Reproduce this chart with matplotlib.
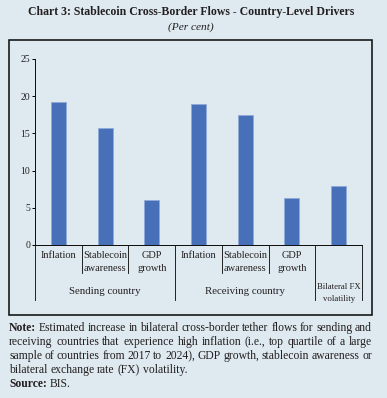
import matplotlib
matplotlib.use("Agg")
import matplotlib.pyplot as plt
from matplotlib.patches import Rectangle
from matplotlib.lines import Line2D

# data
categories = [["Inflation"], ["Stablecoin", "awareness"], ["GDP", "growth"],
              ["Inflation"], ["Stablecoin", "awareness"], ["GDP", "growth"], []]
values = [19.2, 15.7, 6.1, 19.0, 17.5, 6.3, 7.9]
groups = [("Sending country", 1), ("Receiving country", 4), ("Bilateral FX\nvolatility", 6)]
yticks = [0, 5, 10, 15, 20, 25]

title = "Chart 3: Stablecoin Cross-Border Flows - Country-Level Drivers"
subtitle = "(Per cent)"
note_lines = [
    "Note: Estimated increase in bilateral cross-border tether flows for sending and",
    "receiving countries that experience high inflation (i.e., top quartile of a large",
    "sample of countries from 2017 to 2024), GDP growth, stablecoin awareness or",
    "bilateral exchange rate (FX) volatility.",
    "Source: BIS.",
]

W, H = 387, 398
BG = "#dfeaf0"
TXT = "#231f20"
plt.rcParams["font.family"] = ["Liberation Serif", "DejaVu Serif"]

fig = plt.figure(figsize=(W / 72, H / 72), dpi=72, facecolor=BG)
renderer = fig.canvas.get_renderer()


def px(x, y):
    return x / W, 1 - y / H


def fit_size(s, target, **kw):
    # font size that makes s about target pixels wide
    t = fig.text(0, 0, s, fontsize=10, **kw)
    w = t.get_window_extent(renderer).width
    t.remove()
    return 10 * target / w


title_fs = fit_size(title, 328, fontweight="bold")
sub_fs = fit_size(subtitle, 46, style="italic")
cat_fs = fit_size("Inflation Stablecoin", 83)
grp_fs = fit_size("Sending country", 71)
note_fs = fit_size("receiving countries that experience high inflation (i.e., top quartile of a large", 358)
tick_fs = fit_size("25", 9.5)
bfx_fs = fit_size("Bilateral FX", 44)

# frame around the chart
fig.patches.append(Rectangle(px(9, 315), 363 / W, 275 / H, transform=fig.transFigure,
                             fill=False, edgecolor="#111111", linewidth=1.6))

fig.text(*px(191, 12), title, ha="center", va="center", fontsize=title_fs,
         fontweight="bold", color=TXT)
fig.text(*px(191, 27), subtitle, ha="center", va="center", fontsize=sub_fs,
         style="italic", color=TXT)

ax = fig.add_axes([35 / W, 1 - 245 / H, 327 / W, 186 / H])
ax.set_facecolor(BG)
x = range(len(values))
ax.bar(x, values, width=0.32, color="#4870b8", edgecolor="#8eaad8", linewidth=0.8)
ax.set_xlim(-0.5, 6.5)
ax.set_ylim(0, 25)
ax.set_yticks(yticks)
ax.tick_params(axis="y", direction="out", length=3, width=1, labelsize=tick_fs,
               labelcolor=TXT, pad=2)
ax.set_xticks([])
for s in ["top", "right"]:
    ax.spines[s].set_visible(False)
for s in ["left", "bottom"]:
    ax.spines[s].set_linewidth(1)
    ax.spines[s].set_color("#111111")

ah = 186.0
tr = ax.get_xaxis_transform()
for i, lines in enumerate(categories):
    for j, line in enumerate(lines):
        ax.text(i, -(11 + 12.5 * j) / ah, line, transform=tr, ha="center", va="center",
                fontsize=cat_fs, color=TXT, clip_on=False)

long_div = [-0.5, 2.5, 5.5, 6.5]
short_div = [0.5, 1.5, 3.5, 4.5]
for b in long_div:
    ax.add_line(Line2D([b, b], [0, -55 / ah], transform=tr, color="#111111",
                       linewidth=0.9, clip_on=False))
for b in short_div:
    ax.add_line(Line2D([b, b], [0, -28 / ah], transform=tr, color="#111111",
                       linewidth=0.9, clip_on=False))

for name, pos in groups:
    if "\n" in name:
        for j, line in enumerate(name.split("\n")):
            ax.text(pos, -(42 + 12 * j) / ah, line, transform=tr, ha="center",
                    va="center", fontsize=bfx_fs, color=TXT, clip_on=False)
    else:
        ax.text(pos, -46 / ah, name, transform=tr, ha="center", va="center",
                fontsize=grp_fs, color=TXT, clip_on=False)

# note block, justified by hand
x0, x1 = 9, 372
tsp = fig.text(0, 0, "a a", fontsize=note_fs)
tnp = fig.text(0, 0, "aa", fontsize=note_fs)
space = tsp.get_window_extent(renderer).width - tnp.get_window_extent(renderer).width
tsp.remove()
tnp.remove()
for k, line in enumerate(note_lines):
    y = 328 + 14 * k
    words = line.split(" ")
    texts = []
    for w_i, word in enumerate(words):
        bold = w_i == 0 and word in ("Note:", "Source:")
        texts.append(fig.text(0, 1 - y / H, word, ha="left", va="center", fontsize=note_fs,
                              color=TXT, fontweight="bold" if bold else "normal"))
    widths = [t.get_window_extent(renderer).width for t in texts]
    if k < 3:
        gap = (x1 - x0 - sum(widths)) / (len(words) - 1)
    else:
        gap = space
    cur = x0
    for t, wd in zip(texts, widths):
        t.set_x(cur / W)
        cur += wd + gap

fig.savefig("out.png", dpi=72, facecolor=BG)
